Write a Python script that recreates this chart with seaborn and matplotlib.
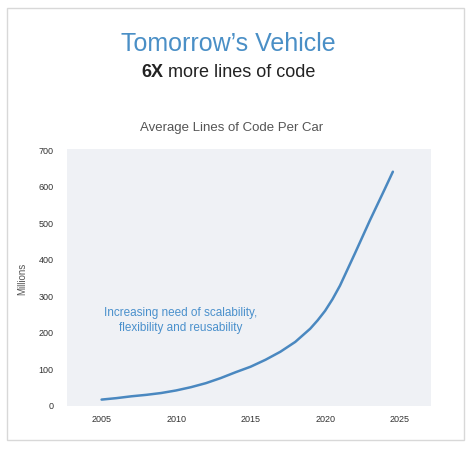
import matplotlib
matplotlib.use('Agg')
import matplotlib.pyplot as plt
from matplotlib.patches import Rectangle
import seaborn as sns
import pandas as pd

# Values (millions of lines of code)
years = [2005, 2006, 2007, 2008, 2009, 2010, 2011, 2012, 2013, 2014, 2015,
         2016, 2017, 2018, 2019, 2019.5, 2020, 2020.5, 2021, 2022, 2023, 2024, 2024.55]
lines_of_code = [14, 18, 23, 27, 32, 39, 48, 59, 73, 89, 104,
                 123, 145, 172, 208, 231, 257, 289, 326, 414, 504, 590, 638]
x_ticks = [2005, 2010, 2015, 2020, 2025]
y_ticks = [0, 100, 200, 300, 400, 500, 600, 700]

df = pd.DataFrame({'year': years, 'loc': lines_of_code})

sns.set_theme(style='white')
plt.rcParams['font.family'] = ['Liberation Sans', 'DejaVu Sans']

fig = plt.figure(figsize=(4.74, 4.52), dpi=100)
ax = fig.add_axes([0.142, 0.100, 0.767, 0.568])
ax.set_facecolor('#eff1f5')

sns.lineplot(data=df, x='year', y='loc', ax=ax, color='#4a88c0', linewidth=1.8)

ax.set_xlim(2002.7, 2027.1)
ax.set_ylim(-3, 700)
ax.set_xticks(x_ticks)
ax.set_yticks(y_ticks)
ax.tick_params(axis='both', labelsize=6.5, labelcolor='#333333', length=0)
ax.tick_params(axis='y', pad=10)
ax.tick_params(axis='x', pad=6)
for s in ax.spines.values():
    s.set_visible(False)
ax.set_xlabel('')
ax.set_ylabel('Millions', fontsize=7, color='#555555', labelpad=8)

ax.text(2010.3, 234, 'Increasing need of scalability,\nflexibility and reusability',
        ha='center', va='center', fontsize=8.5, color='#4a90cc', linespacing=1.35)

# titles
fig.text(0.481, 0.902, 'Tomorrow\u2019s Vehicle', ha='center', va='center',
         fontsize=18, color='#4a8fc6')

# subtitle: bold "6X" followed by regular text, centred as one line
t_bold = fig.text(0, 0.8385, '6X', fontweight='bold', ha='left', va='center',
                  fontsize=13, color='#222222')
t_rest = fig.text(0, 0.8385, ' more lines of code', ha='left', va='center',
                  fontsize=13, color='#222222')
fig.canvas.draw()
r = fig.canvas.get_renderer()
w_bold = t_bold.get_window_extent(r).width / fig.bbox.width
w_rest = t_rest.get_window_extent(r).width / fig.bbox.width
x0 = 0.482 - (w_bold + w_rest) / 2
t_bold.set_x(x0)
t_rest.set_x(x0 + w_bold)

fig.text(0.488, 0.716, 'Average Lines of Code Per Car', ha='center', va='center',
         fontsize=9.5, color='#555555')

# light frame around the whole graphic
fig.patches.append(Rectangle((7 / 474, 1 - 441 / 452), (464 - 7) / 474, (441 - 9) / 452,
                             transform=fig.transFigure, fill=False,
                             edgecolor='#d8d8d8', linewidth=1))

fig.savefig('out.png', dpi=100, facecolor='white')
